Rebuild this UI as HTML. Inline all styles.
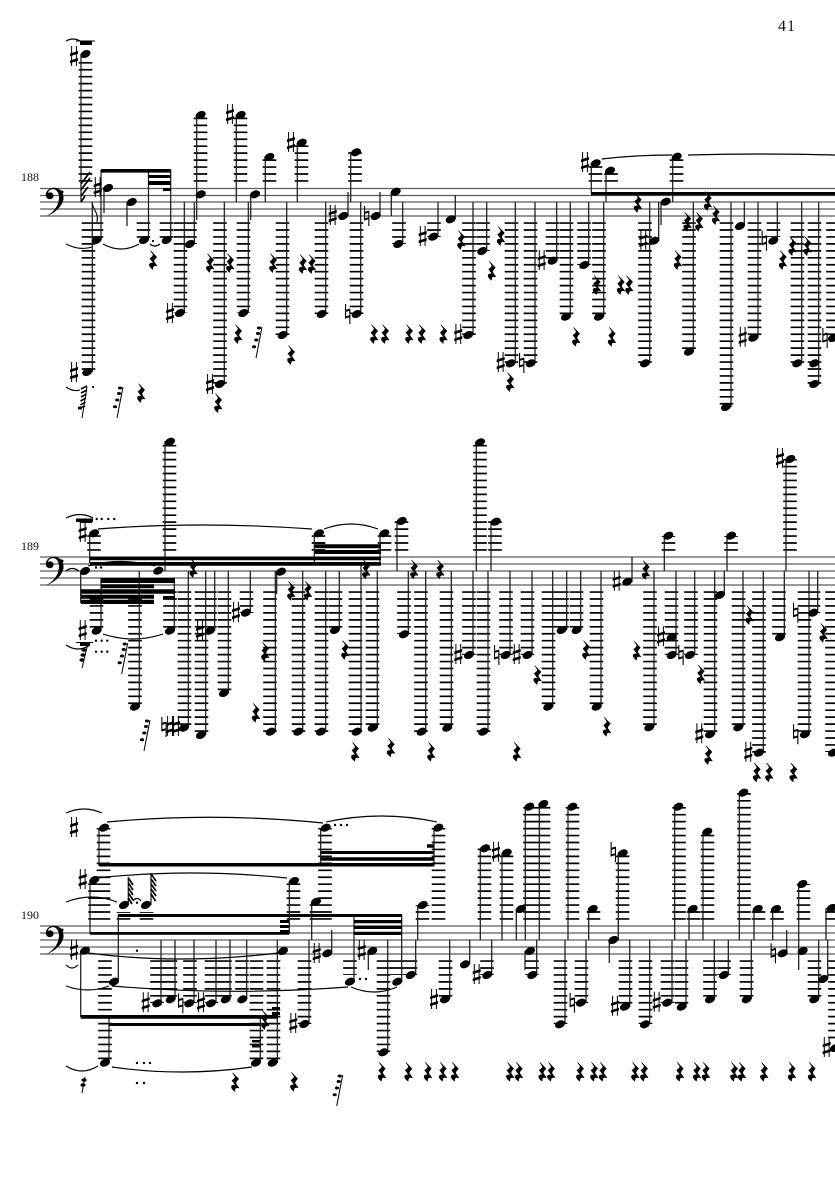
<!DOCTYPE html>
<html><head><meta charset="utf-8"><title>Score page 41</title>
<style>html,body{margin:0;padding:0;background:#fff}svg{display:block}text{font-family:"Liberation Serif",serif;fill:#111}</style></head>
<body>
<svg xmlns="http://www.w3.org/2000/svg" width="835" height="1181" viewBox="0 0 835 1181">
<defs>
<ellipse id="n" rx="5.3" ry="3.7" transform="rotate(-25)"/>
<path id="r" stroke="#000" stroke-width=".6" stroke-linejoin="round" d="M-2.4-9.2L3.6-3Q1-.5.8 1.4L4 6Q-.5 4.7-.2 9.4Q-4.4 6.2-3.4 4Q-1.5 2.5.8 3.5L-3-1.5Q.2-3.5.2-5.5Z"/>
<path id="s" d="M-2.9-10h1v20h-1zM1.9-10h1v20h-1zM-4-2.5L4-5V-2.3L-4 .2zM-4 4.5L4 2V4.7L-4 7.2z" transform="translate(0,-1)"/>
<path id="h" d="M-2.7-10h1.1V4.5h-1.1zM1.6-4.5h1.1V10h-1.1zM-2.5-4L2.5-5.5V-3.5L-2.5-2zM-2.5 2.5L2.5 1V3L-2.5 4.5z"/>
<g id="t"><path d="M0 0L-6 31" stroke="#000" stroke-width="1" fill="none"/><ellipse cx="-3" cy="1" rx="2.1" ry="1.5"/><ellipse cx="-4" cy="6.5" rx="2.1" ry="1.5"/><ellipse cx="-5.7" cy="13" rx="2.1" ry="1.5"/><ellipse cx="-8" cy="19.7" rx="2.1" ry="1.5"/></g>
<path id="c" d="M.5 29C8.5 25.5 14 18 14 10C14 4.5 11 1.6 8 1.6C5 1.6 3.2 3.5 3 5.5C5.5 3.8 9 5.5 8.5 8.8C8 12 3 13 1.3 9.5C-.5 5 3.5.2 8.5.2C14.5.2 18.5 4 18.5 10C18.5 18 10 26 .5 29Z"/>
</defs>

<text x="778" y="31" font-size="16" letter-spacing="1">41</text>
<text x="21" y="181" font-size="12">188</text>
<text x="21" y="550" font-size="12">189</text>
<text x="21" y="919" font-size="12">190</text>

<!-- staves -->
<path fill="none" stroke="#5c5c5c" stroke-width="1.3" d="M40 188.5H835M40 195.5H835M40 202H835M40 209H835M40 216H835M40 557H835M40 564H835M40 571H835M40 578H835M40 585H835M40 926H835M40 933H835M40 940H835M40 947H835M40 954H835"/>
<!-- clefs -->
<use href="#c" x="45" y="187.5"/><use href="#c" x="45" y="556.5"/><use href="#c" x="45" y="925.5"/>
<g><circle cx="62" cy="192" r="1.5"/><circle cx="62" cy="199" r="1.5"/><circle cx="62" cy="561" r="1.5"/><circle cx="62" cy="568" r="1.5"/><circle cx="62" cy="930" r="1.5"/><circle cx="62" cy="937" r="1.5"/></g>

<!-- ledgers -->
<path fill="none" stroke="#000" stroke-width="13.6" stroke-dasharray="1.7 5.25" d="
M85.5 181.8V60M200.5 181.8V115M240.5 181.8V115M269.5 181.8V157M301.5 181.8V143M355 181.8V152M595.5 181.8V163M611 181.8V171M676.5 181.8V157
M88.5 222.2V372M96.5 222.2V240M143.5 222.2V240M166.5 222.2V240M180.5 222.2V313M190 222.2V244M220 222.2V384M243.5 222.2V313M282.5 222.2V335M321.5 222.2V314M356.5 222.2V314M399 222.2V244M434 222.2V237M483 222.2V251M469 222.2V335M511.5 222.2V363M530.5 222.2V363M552.5 222.2V261M566.5 222.2V317M584 222.2V265M599 222.2V317M645 222.2V363M689 222.2V352M726.5 222.2V407M773.5 222.2V237M754.5 222.2V338M797.5 222.2V363M814.5 222.2V384M833 222.2V338
M169.5 550.8V442M94 550.8V533M318.5 550.8V533M384.5 550.8V533M401.5 550.8V521M480 550.8V442M495 550.8V521M668.5 550.8V536M731 550.8V536M790 550.8V459
M96.5 591.2V631M170 591.2V631M135 591.2V707M184.5 591.2V728M201.5 591.2V735M210 591.2V631M224.5 591.2V693M246.5 591.2V613M270 591.2V732M298.5 591.2V732M321.5 591.2V732M335.5 591.2V630M355.5 591.2V732M372.5 591.2V728M404 591.2V634M421 591.2V732M446.5 591.2V728M469 591.2V655M483.5 591.2V732M506 591.2V655M527.5 591.2V655M548.5 591.2V707M562 591.2V630M576.5 591.2V630M596.5 591.2V707M650 591.2V727M671.5 591.2V655M691 591.2V655M710.5 591.2V734M738.5 591.2V727M759 591.2V753M779 591.2V637M813.5 591.2V613M804.5 591.2V734M832 591.2V752
M103.5 919.8V828M95 919.8V880M123.5 919.8V912M146.5 919.8V912M293.5 919.8V881M316.5 919.8V902M325 919.8V828M438.5 919.8V828M422.5 919.8V905M484.5 919.8V848M506.5 919.8V853M530 919.8V807M543.5 919.8V804M572.5 919.8V807M593.5 919.8V909M622.5 919.8V853M679 919.8V807M693.5 919.8V909M707.5 919.8V832M744 919.8V793M758.5 919.8V909M777 919.8V909M803.5 919.8V884M832 919.8V908
M105 960.2V1063M157 960.2V1003M170.5 960.2V999M190 960.2V1003M211.5 960.2V1003M225 960.2V999M242 960.2V992M256.5 960.2V1063M273.5 960.2V1063M304.5 960.2V1024M350 960.2V975M397 960.2V975M383.5 960.2V1052M410.5 960.2V975M445.5 960.2V999M487 960.2V975M532 960.2V975M560.5 960.2V1024M581.5 960.2V1003M625.5 960.2V1007M645.5 960.2V1024M667.5 960.2V1003M681.5 960.2V1007M710 960.2V999M724 960.2V975M746.5 960.2V999M814.5 960.2V999M835 960.2V1040"/>

<!-- stems -->
<path fill="none" stroke="#1c1c1c" stroke-width="1.25" d="
M81 54V202M92.3 202V372M101 170V240M148.5 170V240M170.7 170V240M104 188V213M127 202V226M194.3 202V244M184.3 202V313M196.7 115V220M236.3 115V202M250.7 194V220M265.3 157V202M224.3 202V384M248.3 202V313M286.7 202V335M297.3 143V202M325.7 202V314M348 192V216M350.7 152V202M360.7 202V314M380 192V216M391.3 192V216M402.7 202V244M438 202V237M455.3 195V219M486.7 202V251M473 202V335M515.3 202V363M535 202V363M556.7 202V261M570.3 202V317M588.7 202V265M603.7 202V317M591.3 163V193M606 171V202M672.7 157V202M661 202V225M658.7 202V241M649.7 202V363M693.3 202V352M731 202V407M744.3 202V226M777.3 202V241M758 202V338M801.7 202V363M818.7 202V384
M89.7 533V563M165 441V571M80.7 571V603M101 578V631M174.3 578V631M139.3 571V707M188.3 571V727M205.7 571V735M214.7 571V631M228.3 571V693M250.3 571V613M275.3 571V732M276.7 571V594M302.7 571V732M325.7 571V732M339.3 571V630M361 565V732M377.3 571V728M314.3 533V563M380 533V565M397 521V571M408.3 571V634M425.7 571V732M451.3 571V728M473 571V655M476.3 442V571M491 521V571M488 571V732M510 571V655M532 571V655M552.7 571V707M566.7 571V630M580.7 571V630M601 571V707M632 557V582M654 571V727M664.3 536V571M676 571V655M694.7 571V655M714.7 571V734M724.3 571V595M727 536V571M743 571V727M763.3 571V752M786 459V571M784.3 571V637M817.7 571V613M809 571V734
M99 828V866M90 880V934M128.3 877V905M151 873V905M118.3 915V982M109 1018V1063M80.7 951V1017M161 940V1003M175 940V999M194 940V1003M216 940V1003M230 940V999M246.7 940V999M260.3 1018V1063M277.3 940V1063M289.3 881V934M311.7 902V940M320.7 828V864M434 828V866M354 915V982M401.7 915V982M309 940V1024M331.7 930V953M368.3 951V970M387.7 940V1052M415.7 940V975M417.7 905V940M449.7 940V999M469.7 940V964M491.7 940V975M480.3 848V940M502 853V940M516.3 909V940M525.3 807V940M539.3 804V940M525 951V970M536.7 940V975
M565 940V1024M568 807V940M586 940V1003M588.7 909V940M609.3 940V963M618.3 853V940M629.7 940V1007M649.7 940V1024M672 940V1003M686 940V1007M674.7 807V940M689 909V940M703 832V940M714.3 940V999M728.3 940V975M739.3 793V940M751.3 940V999M754 909V940M772.7 909V940M786.7 930V953M798.7 884V970M827.7 940V979M818.7 940V999M826 908V940"/>

<!-- beams -->
<path d="M101 169h70v3.6h-70zM148 175h23v3h-23zM148 181h23v4h-23zM163 188h8v3h-8zM591 192h244v3.2h-244z
M90 556.7H381V560.3H90zM90 562H381V565.7H90zM315 544.3H381V548.3H315zM315 550H381V554H315zM315 542H325V544H315z
M101 578H175V583H101zM101 584.3H154V588.3H101zM81 589.3H175V593.7H81zM81 594.8H154V598.7H81zM81 599.7H154V604H81zM163 596H175V599.5H163z
M99 863H434V866.5H99zM320.7 851H434V854H320.7zM320.7 857.3H434V860.7H320.7zM427 844.3H434V847.7H427z
M118 914H402V917H118zM90 932H289V934.7H90zM354 920H402V923.3H354zM354 925.7H402V929H354zM354 931.7H402V935H354zM280 920H289V923H280zM280 925H289V928H280zM280 930H289V932H280z
M80.7 1015H278V1018.7H80.7zM109 1023H260V1026H109zM272 1007H280V1010H272zM272 1012H280V1015H272zM252 1040H260V1042.5H252zM252 1045H260V1047.5H252zM80 41H92V45H80z"/>
<path d="M76 40.5H95V41.5H76zM76 518.5H93V522H76zM80 519H92V523H80zM76 642H93V643H76zM80 642H90V646H80z"/>

<!-- hatched flags -->
<path fill="none" stroke="#000" stroke-width="1.7" d="M81 184L90 172M81 190L90 178M81 196L88 187M81 202L85 196
M128.3 878L133 885M128.3 883L133 890M128.3 888L133 895M128.3 893L133 900M128.3 898L132 904
M151 874L156 881M151 879L156 886M151 884L156 891M151 889L156 896M151 894L155.5 901"/>
<path fill="none" stroke="#000" stroke-width="1.1" d="M92.3 203C93 210 99 213 97 222"/>

<!-- slurs & ties -->
<path fill="none" stroke="#000" stroke-width="1.15" d="
M66 41Q73 37 80 41M103 244Q121 254 139 244M150 244Q155 248 160 244M66 244Q80 251 92 247M66 387Q73 392 80 390M601.7 159Q635 155 672 155M688 155Q760 153 835 155
M66 518Q80 511 93 518M98 529Q200 521 312 529M88 566Q120 557 155 566M324 529Q351 519 378 529M103 634Q133 644 163 634M66 645Q78 653 90 645M66 571Q72 566 79 571
M66 813Q84 805 102 813M97 878Q190 868 287 878M66 902Q92 892 117 902M133 901Q137 896 141 901M66 965Q72 971 78 965M88 953Q180 965 278 953M66 986Q88 994 109 986M112 986Q230 996 348 987M351 987Q374 997 397 987M112 1067Q182 1077 252 1067M66 1066Q82 1076 98 1066M107 822Q215 812 323 823M326 822Q381 810 437 822"/>

<!-- dots -->
<g>
<circle cx="93" cy="387" r="1.1"/><circle cx="153" cy="241" r="1.1"/>
<circle cx="96.7" cy="519" r="1.2"/><circle cx="101.7" cy="519" r="1.2"/><circle cx="108.3" cy="519" r="1.2"/><circle cx="114.3" cy="519" r="1.2"/>
<circle cx="96" cy="567.5" r="1.2"/><circle cx="101" cy="567.5" r="1.2"/>
<circle cx="96" cy="640.7" r="1.2"/><circle cx="101.7" cy="640.7" r="1.2"/><circle cx="107.3" cy="640.7" r="1.2"/><circle cx="96" cy="651.7" r="1.2"/><circle cx="101.7" cy="651.7" r="1.2"/><circle cx="107.3" cy="651.7" r="1.2"/>
<circle cx="137" cy="902.7" r="1.2"/><circle cx="137" cy="950.7" r="1.2"/><circle cx="137" cy="1063" r="1.2"/><circle cx="144" cy="1063" r="1.2"/><circle cx="150" cy="1063" r="1.2"/><circle cx="137" cy="1083" r="1.2"/><circle cx="144" cy="1083" r="1.2"/>
<circle cx="335" cy="825" r="1.2"/><circle cx="341" cy="825" r="1.2"/><circle cx="347" cy="825" r="1.2"/><circle cx="360" cy="979" r="1.2"/><circle cx="366" cy="979" r="1.2"/>
</g>

<!-- slash groups -->
<use href="#t" x="123" y="387"/><use href="#t" x="262" y="327"/><use href="#t" x="127.7" y="643"/><use href="#t" x="150" y="720"/><use href="#t" x="342.7" y="1075"/>
<path fill="none" stroke="#000" stroke-width="1" d="M87 387L82 418M87 647L82 668M85 1077L82 1093"/>
<path fill="none" stroke="#000" stroke-width="1.6" d="M81 389L87 386M81 393L87 390M81 397L86.5 394M80.5 401L86 398M80.5 405L85.5 402M80 408L85 406"/>
<g><ellipse cx="80" cy="408" rx="2.2" ry="1.6"/><ellipse cx="84" cy="650" rx="2.6" ry="1.8"/><ellipse cx="83" cy="655" rx="2.6" ry="1.8"/><ellipse cx="82" cy="660" rx="2.6" ry="1.8"/><ellipse cx="84" cy="1080" rx="2.6" ry="1.8"/><ellipse cx="83" cy="1085" rx="2.6" ry="1.8"/></g>

<!-- system 1 notes -->
<use href="#n" x="85.5" y="54"/><use href="#n" x="96.7" y="240"/><use href="#n" x="87.3" y="372"/><use href="#n" x="144" y="240"/><use href="#n" x="166.7" y="240"/><use href="#n" x="108" y="188"/><use href="#n" x="131.7" y="202"/><use href="#n" x="190" y="244"/><use href="#n" x="180" y="313"/><use href="#n" x="200.7" y="194.3"/><use href="#n" x="200.7" y="115"/><use href="#n" x="240.7" y="115"/><use href="#n" x="255" y="194.3"/><use href="#n" x="269.3" y="157"/><use href="#n" x="220" y="384"/><use href="#n" x="243.3" y="313"/>
<use href="#n" x="282.7" y="335"/><use href="#n" x="301.7" y="142.7"/><use href="#n" x="321.7" y="314"/><use href="#n" x="343.3" y="216"/><use href="#n" x="356" y="152.3"/><use href="#n" x="356.7" y="314"/><use href="#n" x="375.7" y="216"/><use href="#n" x="395.7" y="191.7"/><use href="#n" x="398.3" y="244"/><use href="#n" x="433.3" y="236.7"/><use href="#n" x="450.7" y="219.3"/><use href="#n" x="482.3" y="251"/><use href="#n" x="468.3" y="335"/><use href="#n" x="510.7" y="363.3"/><use href="#n" x="530.7" y="363.3"/><use href="#n" x="552.7" y="260.7"/>
<use href="#n" x="566" y="316.7"/><use href="#n" x="584.3" y="265"/><use href="#n" x="599" y="316.7"/><use href="#n" x="595.7" y="163.3"/><use href="#n" x="610" y="170.7"/><use href="#n" x="676.7" y="156.7"/><use href="#n" x="665.7" y="201.7"/><use href="#n" x="654.3" y="240.7"/><use href="#n" x="645" y="363.3"/><use href="#n" x="689" y="351.7"/><use href="#n" x="726" y="407"/><use href="#n" x="740" y="226"/><use href="#n" x="773.3" y="240.7"/><use href="#n" x="753.3" y="337.7"/><use href="#n" x="797.3" y="363.3"/><use href="#n" x="814.3" y="363.3"/><use href="#n" x="814.3" y="384"/><use href="#n" x="833" y="338"/>

<!-- system 2 notes -->
<use href="#n" x="94" y="533.3"/><use href="#n" x="158.3" y="570.7"/><use href="#n" x="170" y="441.7"/><use href="#n" x="85" y="571"/><use href="#n" x="96.7" y="630.7"/><use href="#n" x="170" y="630.7"/><use href="#n" x="135" y="706.7"/><use href="#n" x="184" y="727.7"/><use href="#n" x="201" y="735"/><use href="#n" x="210" y="630.7"/><use href="#n" x="224" y="693"/><use href="#n" x="246" y="612.7"/><use href="#n" x="270.7" y="731.7"/><use href="#n" x="281" y="571.7"/>
<use href="#n" x="298.3" y="731.7"/><use href="#n" x="321" y="731.7"/><use href="#n" x="335" y="630"/><use href="#n" x="356.7" y="731.7"/><use href="#n" x="372.7" y="727.7"/><use href="#n" x="319" y="533.3"/><use href="#n" x="384.3" y="533.3"/><use href="#n" x="401.7" y="521"/><use href="#n" x="404" y="634.3"/><use href="#n" x="421.7" y="731.7"/><use href="#n" x="447.3" y="727.7"/><use href="#n" x="469" y="655"/><use href="#n" x="480" y="442.3"/><use href="#n" x="495.7" y="521.7"/><use href="#n" x="483.3" y="731.7"/><use href="#n" x="505.7" y="655"/><use href="#n" x="527.7" y="655"/><use href="#n" x="548.3" y="706.7"/>
<use href="#n" x="561.7" y="630"/><use href="#n" x="576.7" y="630"/><use href="#n" x="596.7" y="706.7"/><use href="#n" x="627.3" y="581.7"/><use href="#n" x="649.3" y="727.3"/><use href="#n" x="668.3" y="535.7"/><use href="#n" x="671.7" y="637.3"/><use href="#n" x="671.7" y="655"/><use href="#n" x="690" y="655"/><use href="#n" x="710" y="734.3"/><use href="#n" x="720" y="595"/><use href="#n" x="731" y="535.7"/><use href="#n" x="738.3" y="727.3"/><use href="#n" x="759" y="752.7"/><use href="#n" x="790.3" y="459"/><use href="#n" x="780" y="637.3"/><use href="#n" x="813.3" y="612.7"/><use href="#n" x="805" y="734.3"/><use href="#n" x="833" y="752.7"/>

<!-- system 3 notes -->
<use href="#n" x="104" y="827.7"/><use href="#n" x="94.3" y="880"/><use href="#n" x="124" y="905"/><use href="#n" x="146" y="905"/><use href="#n" x="114" y="981.7"/><use href="#n" x="105" y="1062.7"/><use href="#n" x="85" y="950.7"/><use href="#n" x="157.3" y="1003.3"/><use href="#n" x="170.7" y="999.3"/><use href="#n" x="189.3" y="1003.3"/><use href="#n" x="211" y="1003.3"/><use href="#n" x="225.7" y="999.3"/><use href="#n" x="242.3" y="999.3"/><use href="#n" x="256" y="1062.7"/><use href="#n" x="272.7" y="1062.7"/>
<use href="#n" x="283" y="951"/><use href="#n" x="294" y="881"/><use href="#n" x="316" y="901.7"/><use href="#n" x="325.7" y="827.7"/><use href="#n" x="438.3" y="827.7"/><use href="#n" x="350" y="981.7"/><use href="#n" x="397.3" y="981.7"/><use href="#n" x="304.3" y="1024"/><use href="#n" x="327.3" y="953.3"/><use href="#n" x="372.3" y="951"/><use href="#n" x="383.3" y="1052.3"/><use href="#n" x="410.7" y="975"/><use href="#n" x="422.7" y="905"/><use href="#n" x="445" y="999.3"/><use href="#n" x="465" y="964.3"/><use href="#n" x="487.3" y="975"/><use href="#n" x="485" y="848.3"/><use href="#n" x="506.7" y="852.7"/><use href="#n" x="520.7" y="909"/><use href="#n" x="529.3" y="806.7"/><use href="#n" x="543.3" y="804"/><use href="#n" x="530" y="951"/><use href="#n" x="532.3" y="975"/>
<use href="#n" x="560" y="1024.3"/><use href="#n" x="572.3" y="806.7"/><use href="#n" x="581" y="1002.7"/><use href="#n" x="592.7" y="909"/><use href="#n" x="613.3" y="940"/><use href="#n" x="622.7" y="853.3"/><use href="#n" x="625" y="1006.7"/><use href="#n" x="645" y="1024.3"/><use href="#n" x="667.3" y="1002.7"/><use href="#n" x="681.7" y="1006.7"/><use href="#n" x="678.3" y="806.7"/><use href="#n" x="692.7" y="909"/><use href="#n" x="707.3" y="831.7"/><use href="#n" x="710" y="999.3"/><use href="#n" x="724" y="975"/><use href="#n" x="743.3" y="792.7"/><use href="#n" x="746.7" y="999.3"/><use href="#n" x="757.7" y="909"/><use href="#n" x="776" y="909"/><use href="#n" x="782.7" y="953.3"/><use href="#n" x="802.7" y="951"/><use href="#n" x="802.3" y="884"/><use href="#n" x="823.3" y="979"/><use href="#n" x="814.3" y="999.3"/><use href="#n" x="831.7" y="908"/><use href="#n" x="835" y="1048"/>

<!-- sharps -->
<use href="#s" x="74" y="57"/><use href="#s" x="74" y="373"/><use href="#s" x="97.7" y="188"/><use href="#s" x="170" y="314"/><use href="#s" x="230" y="115"/><use href="#s" x="210" y="385"/><use href="#s" x="291" y="143"/><use href="#s" x="332.7" y="216"/><use href="#s" x="422.7" y="237"/><use href="#s" x="458.3" y="335"/><use href="#s" x="500.7" y="363"/><use href="#s" x="541.7" y="261"/><use href="#s" x="585" y="163"/><use href="#s" x="643.3" y="240.7"/><use href="#s" x="742.7" y="337.7"/>
<use href="#s" x="82.7" y="533"/><use href="#s" x="82.7" y="631"/><use href="#s" x="170" y="727"/><use href="#s" x="176" y="727"/><use href="#s" x="200" y="631.7"/><use href="#s" x="236" y="613"/><use href="#s" x="458.3" y="655"/><use href="#s" x="516.7" y="655"/><use href="#s" x="616.7" y="581.7"/><use href="#s" x="661" y="637.3"/><use href="#s" x="699.3" y="734.3"/><use href="#s" x="748.3" y="752.7"/><use href="#s" x="780" y="459"/>
<use href="#s" x="74" y="828"/><use href="#s" x="82.7" y="880"/><use href="#s" x="74" y="950.7"/><use href="#s" x="145.7" y="1003.3"/><use href="#s" x="201" y="1003.3"/><use href="#s" x="293.3" y="1024"/><use href="#s" x="316.7" y="954"/><use href="#s" x="361.7" y="951"/><use href="#s" x="434" y="1000"/><use href="#s" x="476.7" y="975"/><use href="#s" x="496" y="852.7"/><use href="#s" x="615" y="1006.7"/><use href="#s" x="656.7" y="1002.7"/><use href="#s" x="826.7" y="1048"/>

<!-- naturals -->
<use href="#h" x="347.7" y="314"/><use href="#h" x="366.7" y="216"/><use href="#h" x="521.7" y="363"/><use href="#h" x="764.3" y="240.7"/><use href="#h" x="825" y="338"/><use href="#h" x="164" y="727"/>
<use href="#h" x="496.7" y="655"/><use href="#h" x="681" y="655"/><use href="#h" x="795.7" y="612.7"/><use href="#h" x="795.7" y="734.3"/>
<use href="#h" x="180.7" y="1003.3"/><use href="#h" x="572.3" y="1002.7"/><use href="#h" x="613.3" y="852"/><use href="#h" x="773.3" y="953.3"/>

<!-- rests -->
<use href="#r" x="153" y="260"/><use href="#r" x="210" y="263"/><use href="#r" x="230" y="263"/><use href="#r" x="273" y="263"/><use href="#r" x="238" y="334"/><use href="#r" x="141" y="393"/><use href="#r" x="218" y="403"/><use href="#r" x="291" y="355"/><use href="#r" x="302.7" y="264"/><use href="#r" x="311.7" y="264"/><use href="#r" x="461" y="240"/><use href="#r" x="500.7" y="236"/><use href="#r" x="491.7" y="270.7"/><use href="#r" x="374" y="334"/><use href="#r" x="385" y="334"/><use href="#r" x="409" y="334"/><use href="#r" x="421.7" y="334"/><use href="#r" x="443.3" y="334"/><use href="#r" x="510" y="382"/><use href="#r" x="596.7" y="285"/><use href="#r" x="620.7" y="285"/><use href="#r" x="629" y="285"/><use href="#r" x="576" y="336.7"/><use href="#r" x="611.7" y="336.7"/><use href="#r" x="637.7" y="202.7"/><use href="#r" x="707.7" y="201"/><use href="#r" x="715.7" y="215"/><use href="#r" x="687.3" y="221.7"/><use href="#r" x="699" y="221.7"/><use href="#r" x="677.7" y="260"/><use href="#r" x="782.7" y="260"/><use href="#r" x="792.3" y="246"/><use href="#r" x="807.3" y="246"/>
<use href="#r" x="193.3" y="568"/><use href="#r" x="265" y="651.7"/><use href="#r" x="255.7" y="712.7"/><use href="#r" x="291" y="590.7"/><use href="#r" x="307.7" y="590.7"/><use href="#r" x="366" y="569.3"/><use href="#r" x="414" y="569.3"/><use href="#r" x="440" y="569.3"/><use href="#r" x="345" y="650"/><use href="#r" x="537.3" y="675"/><use href="#r" x="355" y="751.7"/><use href="#r" x="390.7" y="747.3"/><use href="#r" x="431" y="751.7"/><use href="#r" x="516.7" y="751.7"/><use href="#r" x="586" y="650"/><use href="#r" x="606.7" y="726.7"/><use href="#r" x="645.7" y="570"/><use href="#r" x="636.7" y="650.7"/><use href="#r" x="700.7" y="674.3"/><use href="#r" x="749.3" y="615"/><use href="#r" x="823.3" y="632.7"/><use href="#r" x="708.3" y="755"/><use href="#r" x="756.7" y="772.3"/><use href="#r" x="769" y="772.3"/><use href="#r" x="793.3" y="772.3"/>
<use href="#r" x="265" y="1020"/><use href="#r" x="235" y="1082"/><use href="#r" x="294" y="1081.7"/><use href="#r" x="381.7" y="1071.7"/><use href="#r" x="408.3" y="1071.7"/><use href="#r" x="427.7" y="1071.7"/><use href="#r" x="442.7" y="1071.7"/><use href="#r" x="454.7" y="1071.7"/><use href="#r" x="510" y="1071.7"/><use href="#r" x="518.7" y="1071.7"/><use href="#r" x="542.3" y="1071.7"/><use href="#r" x="551" y="1071.7"/><use href="#r" x="580" y="1071.7"/><use href="#r" x="594" y="1071.7"/><use href="#r" x="602.7" y="1071.7"/><use href="#r" x="635" y="1071.7"/><use href="#r" x="644" y="1071.7"/><use href="#r" x="679.7" y="1071.7"/><use href="#r" x="696.7" y="1071.7"/><use href="#r" x="705.7" y="1071.7"/><use href="#r" x="734" y="1071.7"/><use href="#r" x="741.7" y="1071.7"/><use href="#r" x="764" y="1071.7"/><use href="#r" x="791.7" y="1071.7"/><use href="#r" x="811.7" y="1071.7"/>
</svg>
</body></html>
